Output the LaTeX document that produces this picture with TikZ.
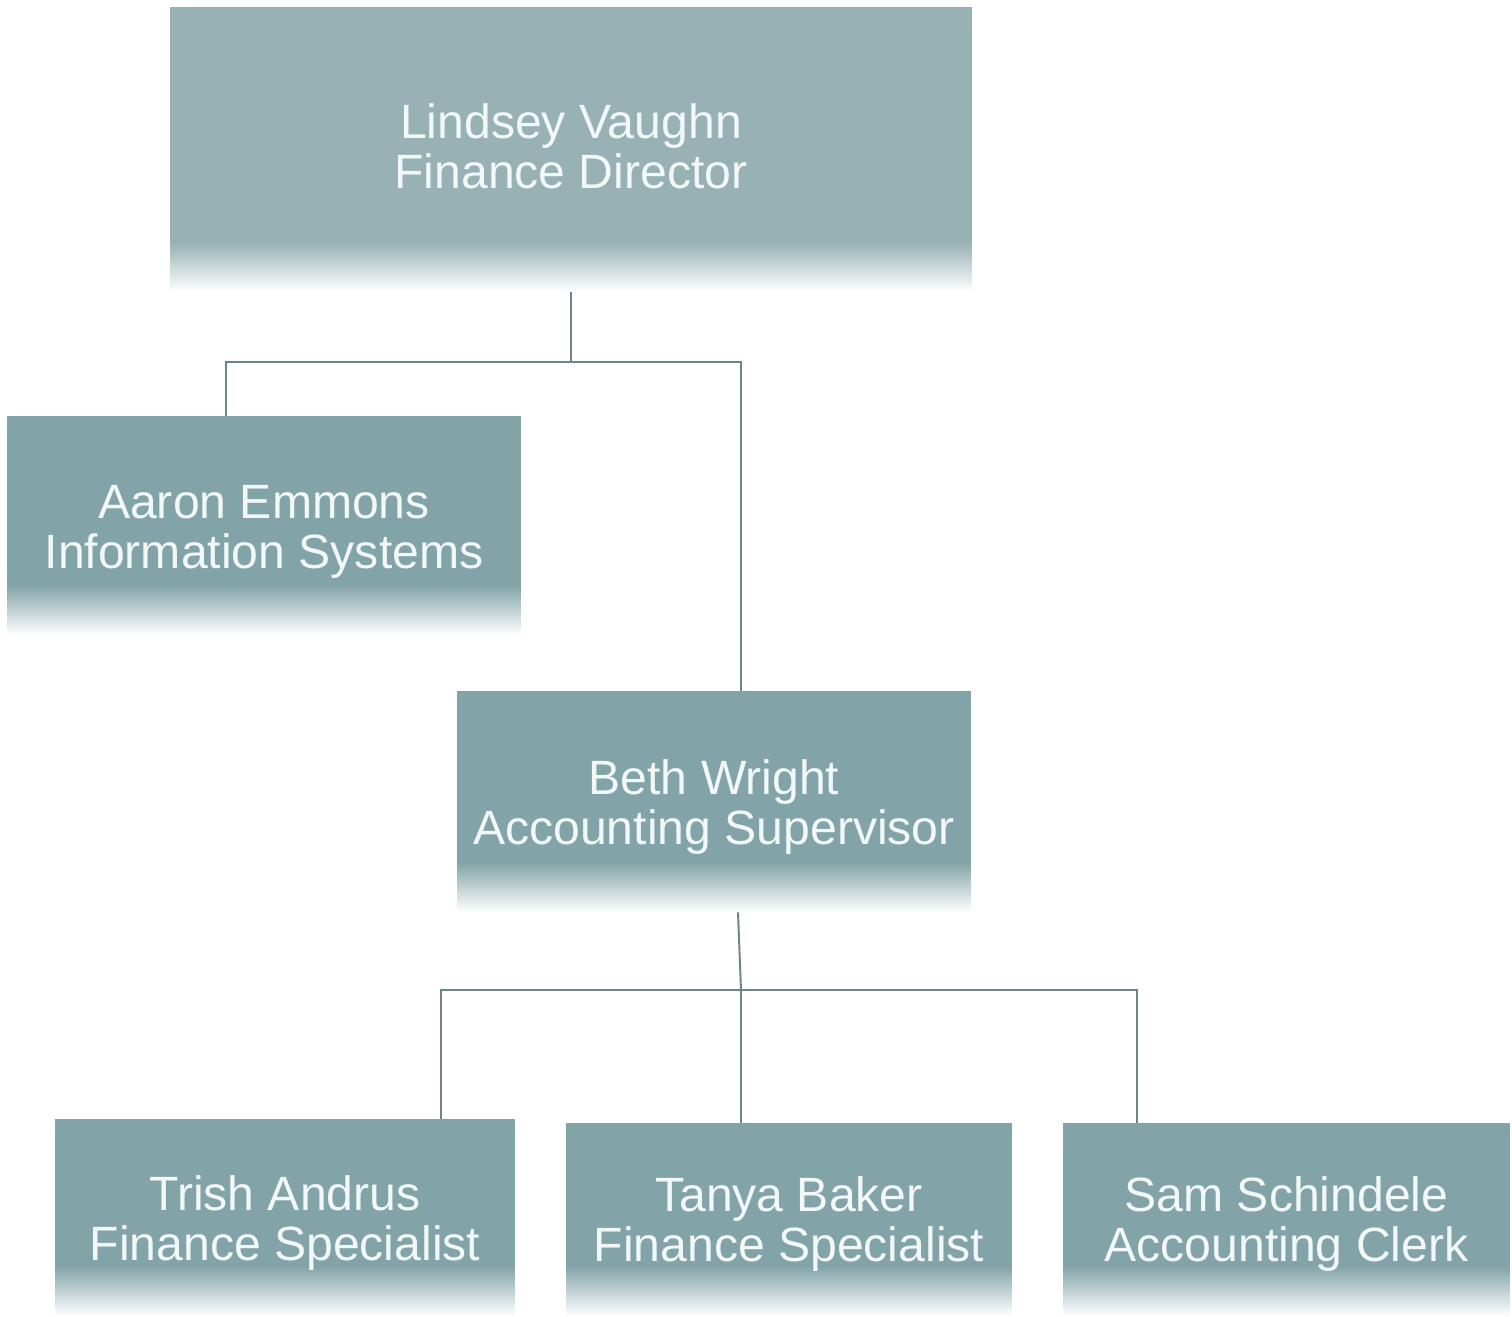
\documentclass[tikz,border=0pt]{standalone}
\usepackage{fontspec}
\setmainfont{Liberation Sans}
\definecolor{boxc}{HTML}{82A3A7}
\definecolor{topc}{HTML}{97B1B5}
\definecolor{txtc}{HTML}{F2F7F7}
\definecolor{linec}{HTML}{6E8588}
\newcommand{\dn}{\rule{0pt}{26.5pt}}
\newcommand{\dm}{\rule{0pt}{24.5pt}}
\begin{document}
\begin{tikzpicture}[x=0.02cm,y=0.02cm,
  person/.style={rectangle, inner sep=0pt, fill=#1, text=txtc, align=center,
    font=\fontsize{27.4}{28.5}\selectfont,
    path picture={\foreach \i in {0,...,49}{%
        \pgfmathsetmacro\p{2*\i+2}%
        \fill[#1!\p!white] ([yshift=\i*0.02cm]path picture bounding box.south west)
          rectangle ([yshift=\i*0.02cm+0.025cm]path picture bounding box.south east);}}},
  conn/.style={draw=linec, line width=1.1pt}]
\useasboundingbox (0,0) rectangle (1512,-1316);
\fill[white] (0,0) rectangle (1512,-1316);
\node[person=topc, minimum width=16.04cm, minimum height=5.7cm] (lv) at (571,-149.5) {Lindsey Vaughn\\Finance Director\rule[-3.4pt]{0pt}{0pt}};
\node[person=boxc, minimum width=10.28cm, minimum height=4.38cm] (ae) at (264,-525.5) {\dn Aaron Emmons\\Information Systems};
\node[person=boxc, minimum width=10.28cm, minimum height=4.42cm] (bw) at (714,-801.5) {\dn Beth Wright\\Accounting Supervisor};
\node[person=boxc, minimum width=9.2cm, minimum height=3.94cm] (ta) at (285,-1217.5) {\dn Trish Andrus\\Finance Specialist};
\node[person=boxc, minimum width=8.92cm, minimum height=3.86cm] (tb) at (789,-1219.5) {\dm Tanya Baker\\Finance Specialist};
\node[person=boxc, minimum width=8.94cm, minimum height=3.86cm] (ss) at (1286.5,-1219.5) {\dm Sam Schindele\\Accounting Clerk};
\coordinate (j1) at (571,-362);
\coordinate (j2) at (741,-990);
\draw[conn] (lv.south) -- (j1);
\draw[conn] (ae.north -| 226,0) |- (j1) -| (bw.north -| 741,0);
\draw[conn] (bw.south -| 738,0) -- (j2);
\draw[conn] (ta.north -| 441,0) |- (j2) -| (ss.north -| 1137,0);
\draw[conn] (j2) -- (tb.north -| 741,0);
\end{tikzpicture}
\end{document}
